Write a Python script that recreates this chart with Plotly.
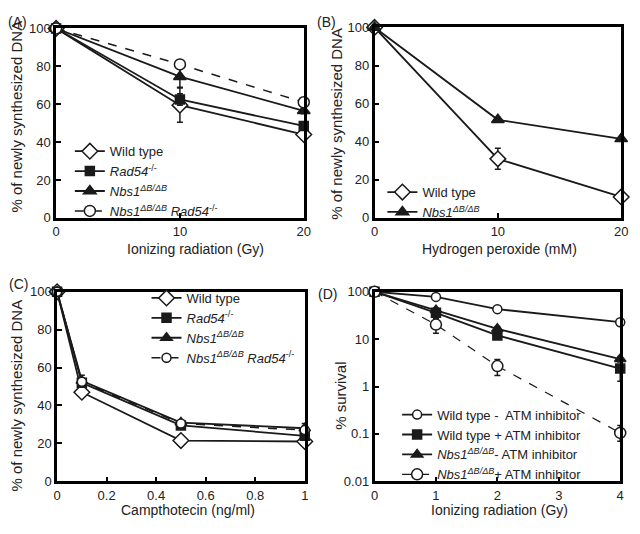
import plotly.graph_objects as go

W, H = 640, 534

# ---------------- data ----------------
# Panel A: Ionizing radiation (Gy)
a_x = [0, 10, 20]
a_wt = [100, 59.5, 44]
a_wt_err = [0, 9, 1]
a_rad54 = [100, 62.5, 48.5]
a_rad54_err = [0, 3, 2]
a_nbs1 = [100, 74.5, 56.5]
a_nbs1_err = [0, 5.5, 1.5]
a_nbs1rad54 = [100, 81, 61]
a_nbs1rad54_err = [0, 2.5, 1]

# Panel B: Hydrogen peroxide (mM)
b_x = [0, 10, 20]
b_wt = [100, 31, 11]
b_wt_err = [0, 5.5, 0.5]
b_nbs1 = [100, 51.5, 41.5]
b_nbs1_err = [0, 1.2, 1]

# Panel C: Campthotecin (ng/ml)
c_x = [0, 0.1, 0.5, 1]
c_wt = [100, 47, 21.5, 21]
c_wt_err = [0, 1, 0.8, 0.8]
c_rad54 = [100, 52, 29.5, 24]
c_rad54_err = [0, 2, 1, 1.5]
c_nbs1 = [100, 53, 31, 28]
c_nbs1_err = [0, 3, 1, 2.5]
c_nbs1rad54 = [100, 52.5, 30.5, 27]
c_nbs1rad54_err = [0, 2, 1, 2]

# Panel D: Ionizing radiation (Gy), % survival
d_x = [0, 1, 2, 4]
d_wt_minus = [100, 78, 43, 22.8]
d_wt_minus_up = [0, 3, 2, 1.5]
d_wt_minus_dn = [0, 3, 2, 1.5]
d_wt_plus = [100, 36, 12, 2.4]
d_wt_plus_up = [0, 5, 2.5, 0.4]
d_wt_plus_dn = [0, 5, 2, 1.1]
d_nbs1_minus = [100, 41, 16.5, 3.8]
d_nbs1_minus_up = [0, 4, 2, 0.5]
d_nbs1_minus_dn = [0, 4, 2, 0.5]
d_nbs1_plus = [100, 20.3, 2.7, 0.105]
d_nbs1_plus_up = [0, 7, 1.0, 0.045]
d_nbs1_plus_dn = [0, 7, 1.0, 0.035]

A_TICKS_X = [0, 10, 20]
Y_TICKS = [0, 20, 40, 60, 80, 100]
C_TICKS_X = [0, 0.2, 0.4, 0.6, 0.8, 1]
C_TICK_TEXT = ["0", "0.2", "0.4", "0.6", "0.8", "1"]
D_TICKS_X = [0, 1, 2, 3, 4]
D_TICKS_Y = [0.01, 0.1, 1, 10, 100]
D_TICK_TEXT = ["0.01", "0.1", "1", "10", "100"]

NBS = "<i>Nbs1</i><sup><i>ΔB/ΔB</i></sup>"
RAD = "<i>Rad54</i><sup>-/-</sup>"

LC = "#1a1a1a"
FONT = "Liberation Sans, Arial, sans-serif"


def px(x):
    return x / W


def py(y):
    return 1 - y / H


def trace(x, y, name, symbol, filled, xa, ya, legend, err=None, err_up=None, err_dn=None,
          dash="solid", size=10, lw=1.8):
    if err is not None:
        ey = dict(type="data", array=err, visible=True, color=LC, thickness=1.5, width=3)
    else:
        ey = dict(type="data", array=err_up, arrayminus=err_dn, symmetric=False,
                  visible=True, color=LC, thickness=1.5, width=3)
    return go.Scatter(
        x=x, y=y, name=name, mode="lines+markers",
        xaxis=xa, yaxis=ya, legend=legend, cliponaxis=False,
        line=dict(color=LC, width=lw, dash=dash),
        marker=dict(symbol=symbol, size=size,
                    color=LC if filled else "white",
                    line=dict(color=LC, width=1.5)),
        error_y=ey,
    )


fig = go.Figure()

# Panel A
fig.add_trace(trace(a_x, a_wt, "Wild type", "diamond", False, "x", "y", "legend", err=a_wt_err, size=12))
fig.add_trace(trace(a_x, a_rad54, RAD, "square", True, "x", "y", "legend", err=a_rad54_err, size=9))
fig.add_trace(trace(a_x, a_nbs1, NBS, "triangle-up", True, "x", "y", "legend", err=a_nbs1_err, size=11))
fig.add_trace(trace(a_x, a_nbs1rad54, NBS + " " + RAD, "circle", False, "x", "y", "legend",
                    err=a_nbs1rad54_err, dash="dash", size=11, lw=1.5))

# Panel B
fig.add_trace(trace(b_x, b_wt, "Wild type", "diamond", False, "x2", "y2", "legend2", err=b_wt_err, size=12))
fig.add_trace(trace(b_x, b_nbs1, NBS, "triangle-up", True, "x2", "y2", "legend2", err=b_nbs1_err, size=11))

# Panel C
fig.add_trace(trace(c_x, c_wt, "Wild type", "diamond", False, "x3", "y3", "legend3", err=c_wt_err, size=12))
fig.add_trace(trace(c_x, c_rad54, RAD, "square", True, "x3", "y3", "legend3", err=c_rad54_err, size=9))
fig.add_trace(trace(c_x, c_nbs1, NBS, "triangle-up", True, "x3", "y3", "legend3", err=c_nbs1_err, size=10))
fig.add_trace(trace(c_x, c_nbs1rad54, NBS + " " + RAD, "circle", False, "x3", "y3", "legend3",
                    err=c_nbs1rad54_err, dash="dash", size=9, lw=1.5))

# Panel D
fig.add_trace(trace(d_x, d_wt_minus, "Wild type -  ATM inhibitor", "circle", False, "x4", "y4", "legend4",
                    err_up=d_wt_minus_up, err_dn=d_wt_minus_dn, size=9))
fig.add_trace(trace(d_x, d_wt_plus, "Wild type + ATM inhibitor", "square", True, "x4", "y4", "legend4",
                    err_up=d_wt_plus_up, err_dn=d_wt_plus_dn, size=9))
fig.add_trace(trace(d_x, d_nbs1_minus, NBS + "- ATM inhibitor", "triangle-up", True, "x4", "y4", "legend4",
                    err_up=d_nbs1_minus_up, err_dn=d_nbs1_minus_dn, size=10))
fig.add_trace(trace(d_x, d_nbs1_plus, NBS + "+ ATM inhibitor", "circle", False, "x4", "y4", "legend4",
                    err_up=d_nbs1_plus_up, err_dn=d_nbs1_plus_dn, dash="dash", size=11, lw=1.2))

axis_common = dict(showline=True, linewidth=2.5, linecolor="black", mirror=True,
                   ticks="inside", ticklen=5, tickwidth=1.5, tickcolor="black",
                   showgrid=False, zeroline=False, ticklabeloverflow="allow",
                   tickfont=dict(size=13, color="#222", family=FONT))

dA = dict(x=[px(53), px(305)], y=[py(217), py(22)])
dB = dict(x=[px(377), px(628)], y=[py(217), py(21)])
dC = dict(x=[px(54), px(306)], y=[py(488), py(293)])
dD = dict(x=[px(377), px(627)], y=[py(488), py(293)])

fig.update_layout(
    xaxis=dict(domain=dA["x"], anchor="y", range=[0, 20], tickvals=A_TICKS_X, **axis_common),
    yaxis=dict(domain=dA["y"], anchor="x", range=[0, 100], tickvals=Y_TICKS, **axis_common),
    xaxis2=dict(domain=dB["x"], anchor="y2", range=[0, 20], tickvals=A_TICKS_X, **axis_common),
    yaxis2=dict(domain=dB["y"], anchor="x2", range=[0, 100], tickvals=Y_TICKS, **axis_common),
    xaxis3=dict(domain=dC["x"], anchor="y3", range=[0, 1], tickvals=C_TICKS_X, ticktext=C_TICK_TEXT, **axis_common),
    yaxis3=dict(domain=dC["y"], anchor="x3", range=[0, 100], tickvals=Y_TICKS, **axis_common),
    xaxis4=dict(domain=dD["x"], anchor="y4", range=[0, 4], tickvals=D_TICKS_X, **axis_common),
    yaxis4=dict(domain=dD["y"], anchor="x4", type="log", range=[-2, 2], tickvals=D_TICKS_Y,
                ticktext=D_TICK_TEXT, **axis_common),
)

leg_common = dict(bgcolor="rgba(0,0,0,0)", borderwidth=0, xanchor="left", yanchor="top",
                  font=dict(size=13, color="#222", family=FONT), itemwidth=30,
                  traceorder="normal")
fig.update_layout(
    legend=dict(x=px(67), y=py(133), **leg_common),
    legend2=dict(x=px(385), y=py(175), **leg_common),
    legend3=dict(x=px(145), y=py(284), **leg_common),
    legend4=dict(x=px(400), y=py(404), **leg_common),
)

ann = []


def text(x, y, s, size=14, angle=0):
    ann.append(dict(x=px(x), y=py(y), xref="paper", yref="paper", text=s, showarrow=False,
                    xanchor="center", yanchor="middle", textangle=angle,
                    font=dict(size=size, color="#222", family=FONT)))


text(195, 249, "Ionizing radiation (Gy)")
text(504, 249, "Hydrogen peroxide (mM)")
text(187, 518, "Campthotecin (ng/ml)")
text(504, 518, "Ionizing radiation (Gy)")
text(13, 113, "% of newly synthesized DNA", size=15, angle=-90)
text(338, 120, "% of newly synthesized DNA", size=15, angle=-90)
text(13, 400, "% of newly synthesized DNA", size=15, angle=-90)
text(343, 400, "% survival", size=15, angle=-90)
text(14, 15, "(A)")
text(328, 15, "(B)")
text(15, 285, "(C)")
text(329, 295, "(D)")

fig.update_layout(
    width=W, height=H, margin=dict(l=0, r=0, t=0, b=0),
    paper_bgcolor="white", plot_bgcolor="white",
    font=dict(family=FONT, color="#222"),
    annotations=ann, showlegend=True,
)

js = ("document.documentElement.style.margin='0';document.documentElement.style.padding='0';"
      "document.body.style.margin='0';document.body.style.padding='0';")
fig.write_html("out.html", post_script=js, config={"displayModeBar": False, "responsive": False})
